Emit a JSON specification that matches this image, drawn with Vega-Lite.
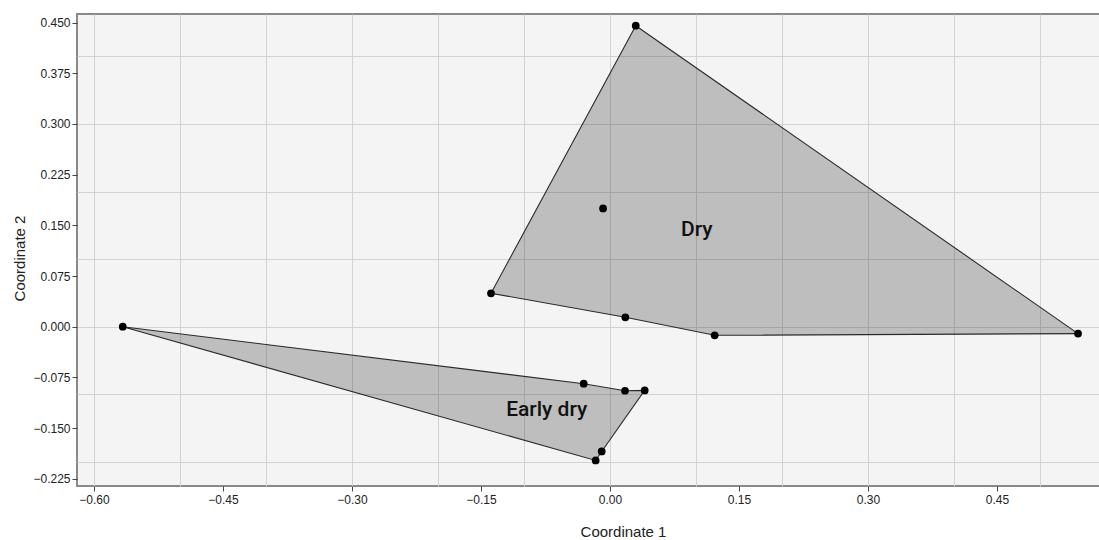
{
  "$schema": "https://vega.github.io/schema/vega-lite/v6.json",
  "width": 1024,
  "height": 472,
  "autosize": {"type": "none"},
  "padding": {"left": 77, "top": 14, "right": 0, "bottom": 54},
  "background": "white",
  "config": {
    "view": {"fill": "#f4f4f4", "stroke": "#8a8a8a", "strokeWidth": 2},
    "axis": {
      "labelFont": "Liberation Sans",
      "labelFontSize": 12,
      "labelColor": "#222",
      "titleFont": "Liberation Sans",
      "titleFontSize": 15,
      "titleFontWeight": "normal",
      "titleColor": "#222",
      "gridColor": "#d2d2d2",
      "gridWidth": 1,
      "gridOpacity": 1,
      "tickColor": "#444",
      "domain": false
    }
  },
  "datasets": {
    "hull": [
      {"group": "Dry", "order": 1, "x": 0.0299, "y": 0.4453},
      {"group": "Dry", "order": 2, "x": 0.5442, "y": -0.0102},
      {"group": "Dry", "order": 3, "x": 0.1217, "y": -0.0127},
      {"group": "Dry", "order": 4, "x": 0.0178, "y": 0.0139},
      {"group": "Dry", "order": 5, "x": -0.1384, "y": 0.0495},
      {"group": "Dry", "order": 6, "x": 0.0299, "y": 0.4453},
      {"group": "Early dry", "order": 1, "x": -0.5666, "y": 0.0},
      {"group": "Early dry", "order": 2, "x": -0.0306, "y": -0.0843},
      {"group": "Early dry", "order": 3, "x": 0.0174, "y": -0.0947},
      {"group": "Early dry", "order": 4, "x": 0.0403, "y": -0.0942},
      {"group": "Early dry", "order": 5, "x": -0.0097, "y": -0.1845},
      {"group": "Early dry", "order": 6, "x": -0.0167, "y": -0.1978},
      {"group": "Early dry", "order": 7, "x": -0.5666, "y": 0.0}
    ],
    "points": [
      {"group": "Dry", "x": 0.0299, "y": 0.4453},
      {"group": "Dry", "x": 0.5442, "y": -0.0102},
      {"group": "Dry", "x": 0.1217, "y": -0.0127},
      {"group": "Dry", "x": 0.0178, "y": 0.0139},
      {"group": "Dry", "x": -0.1384, "y": 0.0495},
      {"group": "Dry", "x": -0.0081, "y": 0.1749},
      {"group": "Early dry", "x": -0.5666, "y": 0.0},
      {"group": "Early dry", "x": -0.0306, "y": -0.0843},
      {"group": "Early dry", "x": 0.0174, "y": -0.0947},
      {"group": "Early dry", "x": 0.0403, "y": -0.0942},
      {"group": "Early dry", "x": -0.0097, "y": -0.1845},
      {"group": "Early dry", "x": -0.0167, "y": -0.1978}
    ],
    "labels": [
      {"group": "Dry", "x": 0.1008, "y": 0.1427},
      {"group": "Early dry", "x": -0.0736, "y": -0.1238}
    ]
  },
  "resolve": {"axis": {"x": "independent", "y": "independent"}},
  "layer": [
    {
      "data": {"name": "hull"},
      "mark": {"type": "line", "fill": "#000000", "fillOpacity": 0.22, "stroke": "#2a2a2a", "strokeWidth": 1.1, "interpolate": "linear"},
      "encoding": {
        "x": {
          "field": "x", "type": "quantitative",
          "scale": {"domain": [-0.6198, 0.5709], "nice": false, "zero": false},
          "axis": {"orient": "top", "values": [-0.6, -0.5, -0.4, -0.3, -0.2, -0.1, 0, 0.1, 0.2, 0.3, 0.4, 0.5], "grid": true, "labels": false, "ticks": false, "domain": false, "title": null}
        },
        "y": {
          "field": "y", "type": "quantitative",
          "scale": {"domain": [-0.2356, 0.4626], "nice": false, "zero": false},
          "axis": {"orient": "right", "values": [-0.2, -0.1, 0, 0.1, 0.2, 0.3, 0.4], "grid": true, "labels": false, "ticks": false, "domain": false, "title": null}
        },
        "detail": {"field": "group"},
        "order": {"field": "order", "type": "quantitative"}
      }
    },
    {
      "data": {"name": "points"},
      "mark": {"type": "circle", "size": 60, "color": "#000000", "opacity": 1},
      "encoding": {
        "x": {
          "field": "x", "type": "quantitative",
          "axis": {"orient": "bottom", "values": [-0.6, -0.45, -0.3, -0.15, 0, 0.15, 0.3, 0.45], "format": ".2f", "grid": false, "tickSize": 5, "labelPadding": 3, "title": "Coordinate 1", "titleX": 546, "titleY": 45, "titleAlign": "center", "titleBaseline": "middle", "titleAnchor": null}
        },
        "y": {
          "field": "y", "type": "quantitative",
          "axis": {"orient": "left", "values": [-0.225, -0.15, -0.075, 0, 0.075, 0.15, 0.225, 0.3, 0.375, 0.45], "format": ".3f", "grid": false, "tickSize": 5, "labelPadding": 2, "title": "Coordinate 2", "titleX": -58, "titleY": 244, "titleAlign": "center", "titleBaseline": "middle", "titleAngle": -90}
        }
      }
    },
    {
      "data": {"name": "labels"},
      "mark": {"type": "text", "font": "Roboto", "fontSize": 21, "fontWeight": 500, "color": "#111111", "align": "center", "baseline": "middle"},
      "encoding": {
        "x": {"field": "x", "type": "quantitative", "axis": null},
        "y": {"field": "y", "type": "quantitative", "axis": null},
        "text": {"field": "group"}
      }
    }
  ]
}
